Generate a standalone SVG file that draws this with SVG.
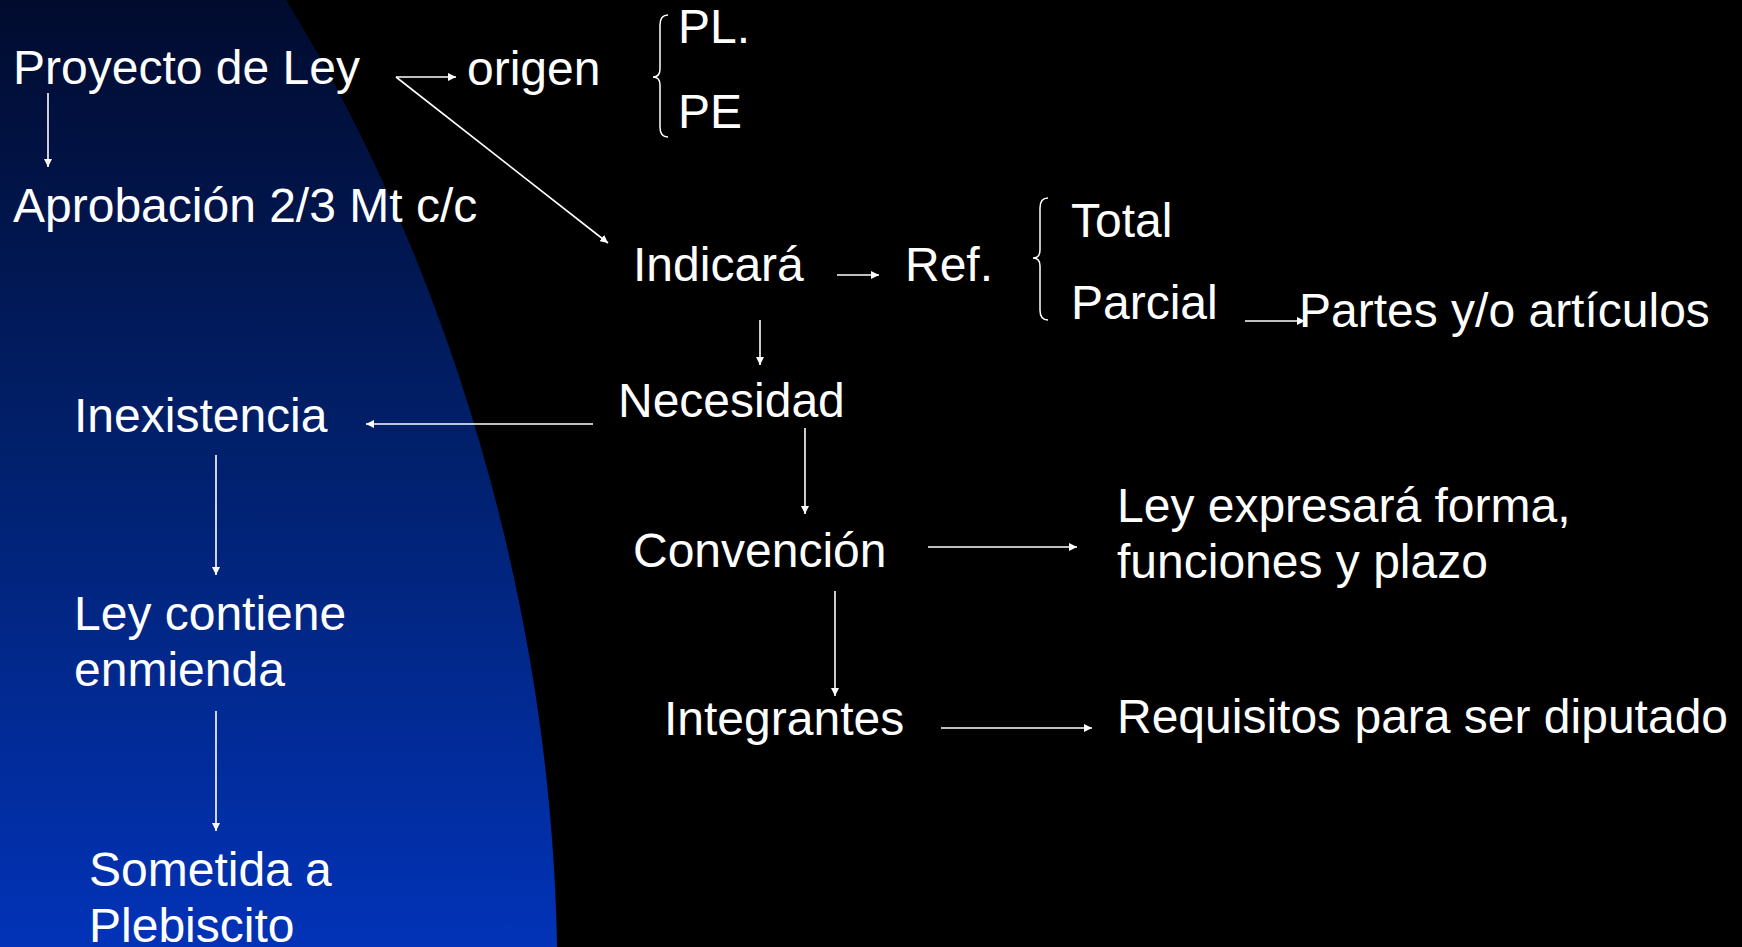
<svg xmlns="http://www.w3.org/2000/svg" width="1742" height="947" viewBox="0 0 1742 947">
<defs>
<linearGradient id="bg" x1="0" y1="0" x2="0" y2="1">
<stop offset="0" stop-color="#010b2e"/>
<stop offset="0.5" stop-color="#01216f"/>
<stop offset="1" stop-color="#0233b8"/>
</linearGradient>
<marker id="ah" viewBox="0 0 10 10" refX="10" refY="5" markerWidth="8" markerHeight="8" markerUnits="userSpaceOnUse" orient="auto">
<path d="M0,0 L10,5 L0,10 z" fill="#fff"/>
</marker>
<style>
text{font-family:"Liberation Sans",Arial,sans-serif;font-size:48px;fill:#fff}
.c line{stroke:#fff;stroke-width:1.6;marker-end:url(#ah)}
.b{fill:none;stroke:#fff;stroke-width:1.5}
</style>
</defs>
<rect width="1742" height="947" fill="#000"/>
<path d="M0,0 L286,0 C410,200 550,540 557,947 L0,947 z" fill="url(#bg)"/>
<g class="c" id="connectors">
<line x1="396" y1="77" x2="456" y2="77"/>
<line x1="396" y1="77" x2="608" y2="243"/>
<line x1="48" y1="93" x2="48" y2="167"/>
<line x1="837" y1="275" x2="879" y2="275"/>
<line x1="1245" y1="321" x2="1305" y2="321"/>
<line x1="760" y1="320" x2="760" y2="365"/>
<line x1="593" y1="424" x2="366" y2="424"/>
<line x1="216" y1="455" x2="216" y2="575"/>
<line x1="216" y1="711" x2="216" y2="831"/>
<line x1="805" y1="428" x2="805" y2="514"/>
<line x1="928" y1="547" x2="1077" y2="547"/>
<line x1="835" y1="591" x2="835" y2="696"/>
<line x1="941" y1="728" x2="1092" y2="728"/>
</g>
<g id="proyecto"><text x="13" y="84">Proyecto de Ley</text></g>
<g id="origen"><text x="467" y="85">origen</text></g>
<g id="brace1"><path class="b" d="M668,15 Q660,15 660,25 L660,69 Q660,77 653,77 Q660,77 660,85 L660,127 Q660,137 668,137"/></g>
<g id="pl"><text x="678" y="43">PL.</text></g>
<g id="pe"><text x="678" y="128">PE</text></g>
<g id="aprobacion"><text x="13" y="222">Aprobación 2/3 Mt c/c</text></g>
<g id="indicara"><text x="633" y="281">Indicará</text></g>
<g id="ref"><text x="905" y="281">Ref.</text></g>
<g id="brace2"><path class="b" d="M1048,198 Q1040,198 1040,208 L1040,250 Q1040,258 1033,258 Q1040,258 1040,266 L1040,310 Q1040,320 1048,320"/></g>
<g id="total"><text x="1071" y="237">Total</text></g>
<g id="parcial"><text x="1071" y="319">Parcial</text></g>
<g id="partes"><text x="1299" y="327">Partes y/o artículos</text></g>
<g id="necesidad"><text x="618" y="417">Necesidad</text></g>
<g id="inexistencia"><text x="74" y="432">Inexistencia</text></g>
<g id="leycontiene"><text x="74" y="630">Ley contiene</text><text x="74" y="686">enmienda</text></g>
<g id="sometida"><text x="89" y="886">Sometida a</text><text x="89" y="942">Plebiscito</text></g>
<g id="convencion"><text x="633" y="567">Convención</text></g>
<g id="leyexpresara"><text x="1117" y="522">Ley expresará forma,</text><text x="1117" y="578">funciones y plazo</text></g>
<g id="integrantes"><text x="664" y="735">Integrantes</text></g>
<g id="requisitos"><text x="1117" y="733">Requisitos para ser diputado</text></g>
</svg>
